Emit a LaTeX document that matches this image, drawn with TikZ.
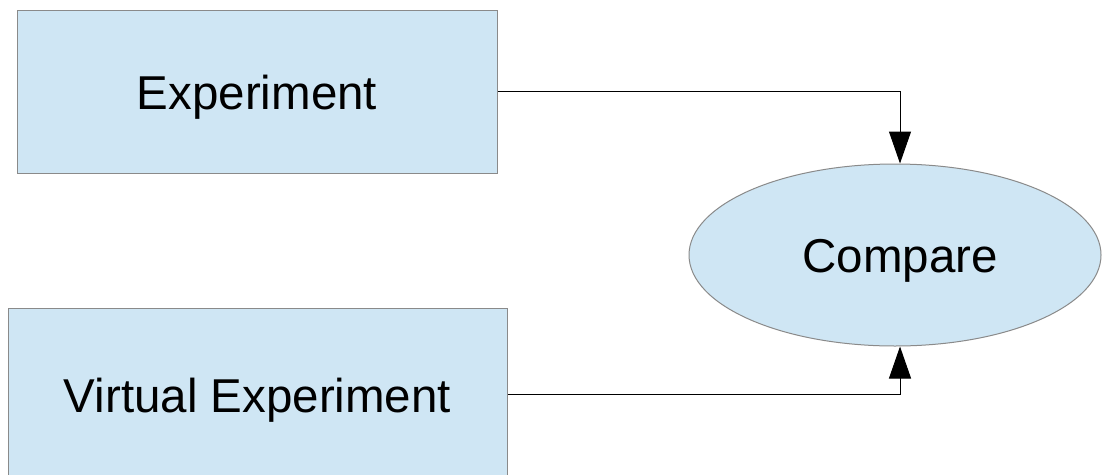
\documentclass[tikz,border=0pt]{standalone}
\usepackage{fontspec}
\setmainfont{Liberation Sans}
\usetikzlibrary{arrows.meta,shapes.geometric}
\definecolor{boxfill}{HTML}{CFE6F4}
\definecolor{boxline}{HTML}{8A8A8A}
\tikzset{
  blockbox/.style={rectangle, draw=boxline, fill=boxfill, line width=1pt, inner sep=0pt,
    text height=34pt, text depth=0pt, font=\fontsize{47.5}{57}\selectfont},
  cmpnode/.style={ellipse, draw=boxline, fill=boxfill, line width=1pt, inner sep=0pt,
    text height=34pt, text depth=0pt, font=\fontsize{47.5}{57}\selectfont},
  conn/.style={draw=black, line width=1pt, -{Triangle[length=32pt,width=22pt]}}
}
\begin{document}
\begin{tikzpicture}[x=1pt,y=-1pt]
\useasboundingbox (0,0) rectangle (1102,474);
\clip (0,0) rectangle (1102,474);
\fill[white] (0,0) rectangle (1102,474);
\node[blockbox, minimum width=480pt, minimum height=163pt] (exp) at (257,92) {Experiment};
\node[blockbox, minimum width=499pt, minimum height=174pt] (vexp) at (257.5,395) {Virtual Experiment};
\node[cmpnode, minimum width=412pt, minimum height=182pt] (cmp) at (895,255) {\hspace*{10pt}Compare};
\draw[conn] (exp.east |- 0,91.5) -| ([xshift=5pt]cmp.north);
\draw[conn] (vexp.east |- 0,394) -| ([xshift=5pt]cmp.south);
\end{tikzpicture}
\end{document}
